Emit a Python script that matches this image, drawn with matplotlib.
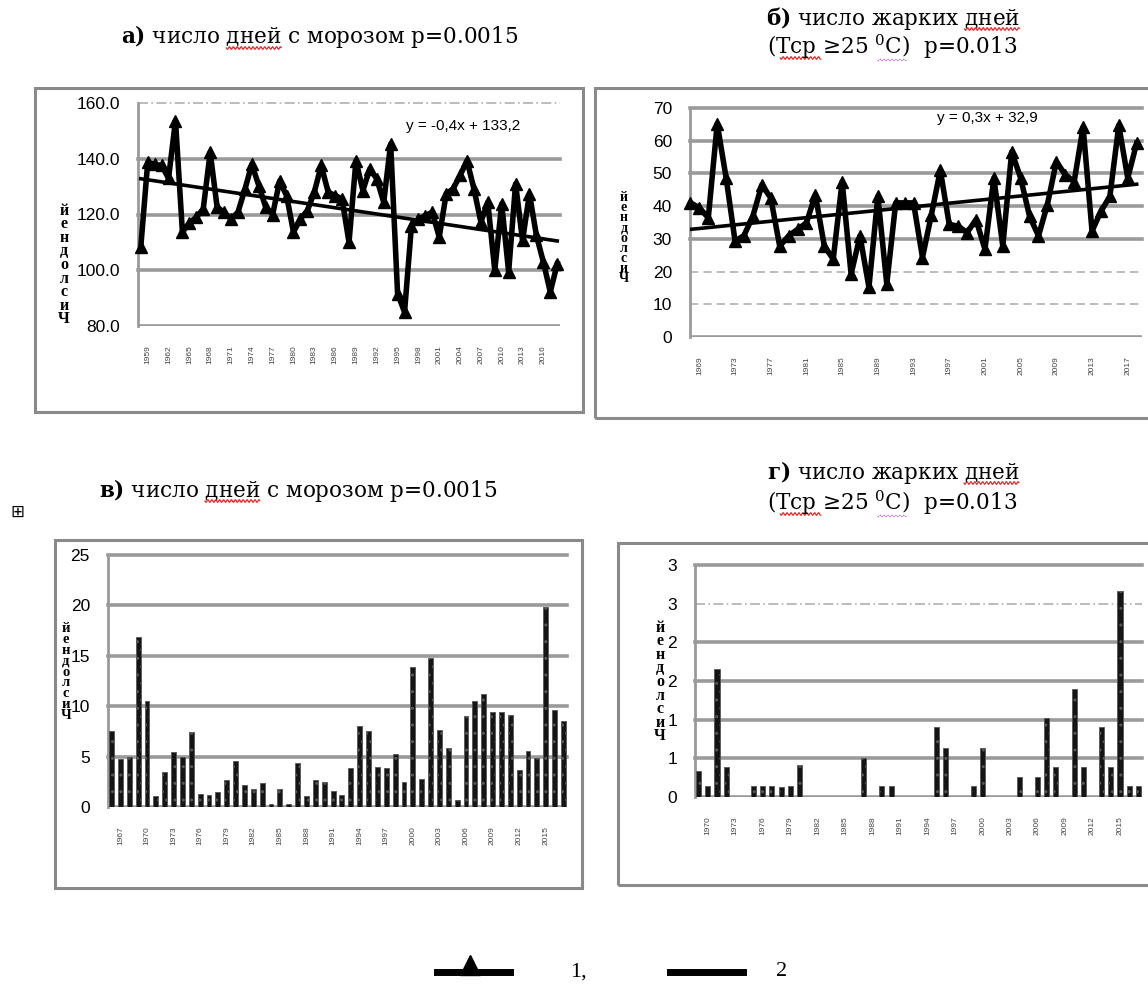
import numpy as np
import matplotlib
matplotlib.use("Agg")
import matplotlib.pyplot as plt
from matplotlib.patches import Rectangle
from matplotlib.lines import Line2D
from matplotlib.ticker import FixedLocator, FixedFormatter

# ---- data ----
frost_days = [108.3, 138.7, 138.0, 137.6, 133.0, 153.7, 113.7, 117.0, 119.0, 122.0,
              142.3, 122.6, 120.8, 118.4, 120.8, 129.0, 138.0, 130.4, 122.6, 120.0,
              132.0, 126.8, 113.7, 118.4, 121.4, 128.0, 137.6, 128.0, 126.8, 125.6,
              110.0, 139.3, 128.6, 136.4, 132.8, 124.4, 145.3, 91.6, 85.0, 116.0,
              118.4, 119.6, 120.8, 111.9, 127.4, 129.2, 134.0, 139.3, 129.2, 117.3,
              124.4, 100.0, 123.8, 99.4, 131.0, 110.7, 127.4, 112.5, 103.0, 92.2, 102.3]
frost_trend = (-0.4, 133.2)
frost_years = list(range(1958, 1958 + len(frost_days)))

hot_days = [41.0, 39.5, 36.4, 65.2, 48.6, 29.3, 31.0, 37.0, 46.5, 42.5,
            27.8, 30.9, 32.9, 34.9, 43.5, 27.8, 23.8, 47.5, 19.2, 30.9,
            15.2, 43.0, 16.2, 41.0, 41.0, 41.0, 24.3, 37.4, 51.0, 34.4,
            33.9, 31.9, 35.9, 26.8, 48.6, 27.8, 56.6, 48.6, 36.9, 30.9,
            40.5, 53.6, 49.6, 47.5, 64.2, 32.4, 38.4, 43.0, 64.7, 48.6, 59.2]
hot_trend = (0.3, 32.9)
hot_years = list(range(1968, 1968 + len(hot_days)))

frost_bars = [7.5, 4.8, 5.0, 16.9, 10.5, 1.1, 3.5, 5.5, 5.0, 7.4,
              1.3, 1.2, 1.5, 2.7, 4.6, 2.2, 1.8, 2.4, 0.3, 1.8,
              0.3, 4.4, 1.1, 2.7, 2.5, 1.6, 1.2, 3.9, 8.0, 7.5,
              4.0, 3.9, 5.3, 2.5, 13.9, 2.8, 14.8, 7.6, 5.9, 0.7,
              9.0, 10.5, 11.2, 9.4, 9.4, 9.1, 3.7, 5.6, 4.9, 19.8, 9.6, 8.5]
frost_bar_years = list(range(1966, 1966 + len(frost_bars)))

hot_bars = [0.33, 0.14, 1.66, 0.39, 0, 0, 0.14, 0.14, 0.14, 0.13,
            0.14, 0.41, 0, 0, 0, 0, 0, 0, 0.50, 0,
            0.14, 0.14, 0, 0, 0, 0, 0.90, 0.64, 0, 0,
            0.14, 0.64, 0, 0, 0, 0.26, 0, 0.26, 1.02, 0.39,
            0, 1.40, 0.39, 0, 0.90, 0.39, 2.66, 0.14, 0.14]
hot_bar_years = list(range(1969, 1969 + len(hot_bars)))

title_frost = [r"$\bf{а)}$ число ", "дней", " с морозом p=0.0015"]
title_frost_b = [r"$\bf{в)}$ число ", "дней", " с морозом p=0.0015"]
title_hot1 = [r"$\bf{б)}$ число жарких ", "дней", ""]
title_hot1_g = [r"$\bf{г)}$ число жарких ", "дней", ""]
title_hot2 = ["(", "Тср", " ≥25 $^{0}$С)  p=0.013"]

W, H = 1148, 990
plt.rcParams["mathtext.fontset"] = "dejavuserif"
fig = plt.figure(figsize=(W / 100, H / 100), dpi=100)
renderer = fig.canvas.get_renderer()

SERIF = ["DejaVu Serif", "Liberation Serif"]
TIMES = ["Liberation Serif", "DejaVu Serif"]
SANS = ["Liberation Sans", "DejaVu Sans"]
GRID = "#9a9a9a"
TFS = 15.5


def box(x0, y0, x1, y1):
    return [x0 / W, 1 - y1 / H, (x1 - x0) / W, (y1 - y0) / H]


def fx(x):
    return x / W


def fy(y):
    return 1 - y / H


def frame(x0, y0, x1, y1):
    fig.patches.append(Rectangle((fx(x0), fy(y1)), (x1 - x0) / W, (y1 - y0) / H,
                                 transform=fig.transFigure, fill=False,
                                 edgecolor="#8a8a8a", lw=2.2))


def wavy(x0, x1, y, color="#e03030", ls="-"):
    xs = np.linspace(x0, x1, int((x1 - x0) * 2))
    ys = y + 1.3 * np.sin((xs - x0) * 1.6)
    fig.add_artist(Line2D(fx(xs), fy(ys), color=color, lw=0.9, ls=ls,
                          transform=fig.transFigure))


def text_width(s):
    if not s:
        return 0.0
    t = fig.text(0, 0, s.replace(" ", "\u00a0"), fontsize=TFS, family=SERIF)
    w = t.get_window_extent(renderer).width
    t.remove()
    return w


def title(parts, xc, y, color="#e03030", ls="-"):
    full = "".join(parts)
    fig.text(fx(xc), fy(y), full, ha="center", va="center", fontsize=TFS,
             family=SERIF)
    total = text_width(full)
    x0 = xc - total / 2 + text_width(parts[0]) + 5
    x1 = x0 + text_width(parts[1])
    wavy(x0, x1, y + 11, color=color, ls=ls)


def base_axes(rect, n, ylim, yticks, ylabels, solid, dashed, dashstyle, years, step):
    ax = fig.add_axes(box(*rect))
    ax.set_xlim(-0.4, n - 0.6)
    ax.set_ylim(*ylim)
    for s in ["top", "right", "bottom"]:
        ax.spines[s].set_visible(False)
    ax.spines["left"].set_color(GRID)
    ax.spines["left"].set_linewidth(2)
    for v in solid:
        ax.axhline(v, color=GRID, lw=2.6, zorder=0, clip_on=False)
    for v in dashed:
        ax.axhline(v, color="#b0b0b0", lw=1.2, ls=dashstyle, zorder=0, clip_on=False)
    ax.yaxis.set_major_locator(FixedLocator(yticks))
    ax.yaxis.set_major_formatter(FixedFormatter(ylabels))
    ax.tick_params(axis="y", length=0, labelsize=12.5, pad=13)
    for t in ax.get_yticklabels():
        t.set_family(SANS)
    pos = list(range(1, n, step))
    ax.set_xticks(pos)
    ax.set_xticklabels([str(years[i]) for i in pos], rotation=90, fontsize=6,
                       color="#444444", family=SANS)
    ax.tick_params(axis="x", length=0, pad=14)
    return ax


def ylabel(x, y, size=11.5, spacing=0.8):
    fig.text(fx(x), fy(y), "\n".join("йендолсиЧ"), ha="center", va="center",
             fontsize=size, fontweight="bold", family=TIMES, linespacing=spacing)


# ---- panel a ----
frame(35, 88, 583, 412)
n = len(frost_days)
ax = base_axes((138, 103, 560, 326), n, (80, 160), [80, 100, 120, 140, 160],
               ["80.0", "100.0", "120.0", "140.0", "160.0"],
               [100, 120, 140], [160], (0, (6, 2, 1, 2)), frost_years, 3)
ax.axhline(80, color=GRID, lw=2.6, zorder=0)
ax.plot(range(n), frost_days, color="black", lw=4, marker="^", ms=8, zorder=4,
        clip_on=False)
x = np.arange(n)
ax.plot(x, frost_trend[0] * (x + 1) * 0.93 + frost_trend[1], color="black", lw=2.6,
        zorder=3)
fig.text(fx(463), fy(126), "y = -0,4x + 133,2", ha="center", va="center",
         fontsize=11, family=SANS)
ylabel(64, 265)
title(title_frost, 320, 37)

# ---- panel б ----
frame(595, 88, 1165, 418)
n = len(hot_days)
ax = base_axes((690, 108, 1142, 337), n, (0, 70), list(range(0, 80, 10)),
               [str(v) for v in range(0, 80, 10)],
               [30, 40, 50, 60, 70], [10, 20], (0, (5, 3)), hot_years, 4)
ax.axhline(0, color=GRID, lw=2.6, zorder=0)
ax.set_xlim(-0.05, n - 0.4)
ax.plot(range(n), hot_days, color="black", lw=4, marker="^", ms=8, zorder=4,
        clip_on=False)
x = np.arange(n)
ax.plot(x, hot_trend[0] * x * 0.92 + hot_trend[1], color="black", lw=2.6, zorder=3)
fig.text(fx(987), fy(118), "y = 0,3x + 32,9", ha="center", va="center",
         fontsize=11, family=SANS)
ylabel(624, 238, size=10, spacing=0.72)
title(title_hot1, 893, 18)
title(title_hot2, 892, 47)
wavy(878, 906, 60, color="#c050d0", ls=":")

# ---- panel в ----
frame(55, 540, 582, 888)
n = len(frost_bars)
ax = base_axes((108, 555, 567, 807), n, (0, 25), [0, 5, 10, 15, 20, 25],
               ["0", "5", "10", "15", "20", "25"],
               [5, 10, 15, 20, 25], [], "-", frost_bar_years, 3)
ax.axhline(0, color=GRID, lw=2.6, zorder=0)
ax.bar(range(n), frost_bars, width=0.55, color="#151515", edgecolor="#555555",
       lw=0.6, hatch="..", zorder=3)
ylabel(66, 672, size=10.5, spacing=0.78)
title(title_frost_b, 298, 490)
fig.text(fx(17), fy(512), "⊞", ha="center", va="center", fontsize=12,
         family=["DejaVu Sans"])

# ---- panel г ----
frame(618, 543, 1165, 885)
n = len(hot_bars)
ax = base_axes((695, 565, 1142, 797), n, (0, 3), [0, 0.5, 1, 1.5, 2, 2.5, 3],
               ["0", "1", "1", "2", "2", "3", "3"],
               [0.5, 1, 1.5, 2, 3], [2.5], (0, (6, 2, 1, 2)), hot_bar_years, 3)
ax.axhline(0, color=GRID, lw=2.6, zorder=0)
ax.bar(range(n), hot_bars, width=0.55, color="#151515", edgecolor="#555555",
       lw=0.6, hatch="..", zorder=3)
ylabel(660, 682)
title(title_hot1_g, 893, 472)
title(title_hot2, 892, 503)
wavy(878, 906, 516, color="#c050d0", ls=":")

# ---- legend ----
fig.add_artist(Line2D([fx(437), fx(510)], [fy(972)] * 2, color="black", lw=5,
                      transform=fig.transFigure))
fig.add_artist(Line2D([fx(470)], [fy(965)], color="black", marker="^", ms=14,
                      transform=fig.transFigure))
fig.text(fx(578), fy(972), "1,", ha="center", va="center", fontsize=16,
         family=TIMES)
fig.add_artist(Line2D([fx(670), fx(743)], [fy(972)] * 2, color="black", lw=5,
                      transform=fig.transFigure))
fig.text(fx(782), fy(972), "2", ha="center", va="center", fontsize=16,
         family=TIMES)

fig.savefig("out.png", dpi=100)
